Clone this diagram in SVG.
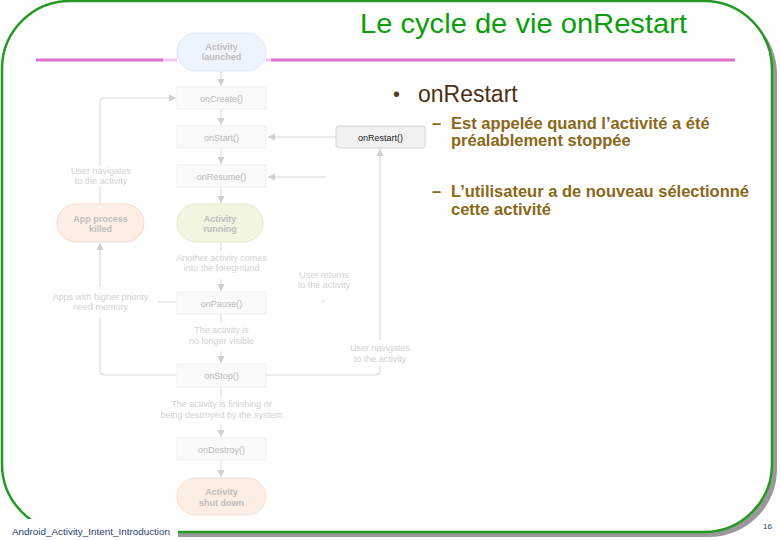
<svg xmlns="http://www.w3.org/2000/svg" width="780" height="540" viewBox="0 0 780 540">
<style>
.node-box{fill:#fafafa;stroke:#efefef;stroke-width:1}
.lbl{font-family:"Liberation Sans",Arial,sans-serif;font-size:9px;fill:#b9b9b9;text-anchor:middle}
.plbl{font-family:"Liberation Sans",Arial,sans-serif;font-size:9px;font-weight:bold;fill:#bdbdbd;text-anchor:middle}
.desc{font-family:"Liberation Sans",Arial,sans-serif;font-size:9px;fill:#d2d2d2;text-anchor:middle}
.conn{fill:none;stroke:#d6d6d6;stroke-width:1}
.arr{marker-end:url(#ah)}
.sub{font-family:"Liberation Sans",Arial,sans-serif;font-size:16.5px;font-weight:bold;fill:#8a6818}
</style>
<defs>
<marker id="ah" markerUnits="userSpaceOnUse" markerWidth="8" markerHeight="8" refX="7" refY="4" orient="auto">
<path d="M0,0.5 L7,4 L0,7.5 z" fill="#cfcfcf"/>
</marker>
</defs>

<!-- frame -->
<rect x="7" y="6" width="770" height="531" rx="68" ry="68" fill="#999999"/>
<rect x="2" y="1" width="770" height="531" rx="68" ry="68" fill="#ffffff" stroke="#249a24" stroke-width="2.5"/>
<rect x="28" y="519" width="150" height="21" fill="#ffffff"/>

<!-- title -->
<text x="360" y="33" font-family="Liberation Sans, Arial, sans-serif" font-size="27" fill="#0a9e0a" textLength="327" lengthAdjust="spacingAndGlyphs">Le cycle de vie onRestart</text>

<!-- magenta rule -->
<g id="rule">
<line x1="36" y1="60" x2="163" y2="60" stroke="#e070d0" stroke-width="3"/>
<line x1="163" y1="60" x2="177" y2="60" stroke="#f6c6ef" stroke-width="3"/>
<line x1="266" y1="60" x2="271" y2="60" stroke="#f6c6ef" stroke-width="3"/>
<line x1="271" y1="60" x2="735" y2="60" stroke="#e070d0" stroke-width="3"/>
</g>

<!-- connectors -->
<g id="connectors">
<line class="conn arr" x1="221" y1="71" x2="221" y2="86"/>
<line class="conn arr" x1="221" y1="109" x2="221" y2="125"/>
<line class="conn arr" x1="221" y1="148" x2="221" y2="164"/>
<line class="conn arr" x1="221" y1="187" x2="221" y2="203"/>
<line class="conn" x1="221" y1="242" x2="221" y2="251"/>
<line class="conn arr" x1="221" y1="279" x2="221" y2="291"/>
<line class="conn" x1="221" y1="314" x2="221" y2="323"/>
<line class="conn arr" x1="221" y1="351" x2="221" y2="363"/>
<line class="conn" x1="221" y1="387" x2="221" y2="397"/>
<line class="conn arr" x1="221" y1="424" x2="221" y2="437"/>
<line class="conn arr" x1="221" y1="460" x2="221" y2="477"/>
<line class="conn arr" x1="336" y1="137" x2="268" y2="137"/>
<line class="conn arr" x1="325" y1="177" x2="268" y2="177"/>
<line class="conn" x1="323" y1="300" x2="323" y2="303"/>
<path class="conn" d="M266,375 H376 Q380,375 380,371 V366"/>
<path class="conn arr" d="M380,340 V149"/>
<path class="conn arr" d="M100,166 V102 Q100,98 104,98 H176"/>
<line class="conn" x1="100" y1="187" x2="100" y2="204"/>
<line class="conn arr" x1="100" y1="287" x2="100" y2="243"/>
<path class="conn" d="M100,317 V371 Q100,375 104,375 H177"/>
<line class="conn" x1="177" y1="302" x2="158" y2="302"/>
</g>

<!-- nodes -->
<g id="n-launched">
<rect x="177" y="33" width="89" height="38" rx="19" fill="#eef4fd" stroke="#dfe8f5"/>
<text class="plbl" x="221.5" y="50">Activity</text>
<text class="plbl" x="221.5" y="60">launched</text>
</g>
<g id="n-oncreate">
<rect class="node-box" x="177" y="87" width="89" height="22"/>
<text class="lbl" x="221.5" y="101.5">onCreate()</text>
</g>
<g id="n-onstart">
<rect class="node-box" x="177" y="126" width="89" height="22"/>
<text class="lbl" x="221.5" y="140.5">onStart()</text>
</g>
<g id="n-onresume">
<rect class="node-box" x="177" y="165" width="89" height="22"/>
<text class="lbl" x="221.5" y="179.5">onResume()</text>
</g>
<g id="n-running">
<rect x="177" y="204" width="86" height="38" rx="19" fill="#f0f6e0" stroke="#e2ebcc"/>
<text class="plbl" x="220" y="221.5">Activity</text>
<text class="plbl" x="220" y="232">running</text>
</g>
<g id="n-killed">
<rect x="57" y="204" width="87" height="38" rx="19" fill="#fdeee6" stroke="#f4dccf"/>
<text class="plbl" x="100.5" y="221.5">App process</text>
<text class="plbl" x="100.5" y="232">killed</text>
</g>
<g id="n-onpause">
<rect class="node-box" x="177" y="292" width="89" height="22"/>
<text class="lbl" x="221.5" y="306.5">onPause()</text>
</g>
<g id="n-onstop">
<rect class="node-box" x="177" y="364" width="89" height="23"/>
<text class="lbl" x="221.5" y="379">onStop()</text>
</g>
<g id="n-ondestroy">
<rect class="node-box" x="177" y="438" width="89" height="22"/>
<text class="lbl" x="221.5" y="452.5">onDestroy()</text>
</g>
<g id="n-shutdown">
<rect x="177" y="478" width="89" height="37" rx="18.5" fill="#fdeee4" stroke="#f5dfd2"/>
<text class="plbl" x="221.5" y="495">Activity</text>
<text class="plbl" x="221.5" y="505.5">shut down</text>
</g>
<g id="n-onrestart">
<rect x="336" y="126" width="89" height="22" rx="2.5" fill="#f1f1f1" stroke="#d4d4d4"/>
<text x="380.5" y="140.5" font-family="Liberation Sans, Arial, sans-serif" font-size="9" fill="#222222" text-anchor="middle">onRestart()</text>
</g>

<!-- edge descriptions -->
<g id="descriptions">
<text class="desc" x="101" y="174">User navigates</text>
<text class="desc" x="101" y="184">to the activity</text>
<text class="desc" x="100.5" y="299.5">Apps with higher priority</text>
<text class="desc" x="100.5" y="310">need memory</text>
<text class="desc" x="221.5" y="261">Another activity comes</text>
<text class="desc" x="221.5" y="271">into the foreground</text>
<text class="desc" x="324" y="278">User returns</text>
<text class="desc" x="324" y="288">to the activity</text>
<text class="desc" x="221.5" y="333">The activity is</text>
<text class="desc" x="221.5" y="344">no longer visible</text>
<text class="desc" x="380" y="351">User navigates</text>
<text class="desc" x="380" y="362">to the activity</text>
<text class="desc" x="221.5" y="407">The activity is finishing or</text>
<text class="desc" x="221.5" y="418">being destroyed by the system</text>
</g>

<!-- bullets -->
<g id="bullets">
<text x="393" y="101" font-family="Liberation Sans, Arial, sans-serif" font-size="20" fill="#5a3a12">•</text>
<text x="418" y="101.5" font-family="Liberation Sans, Arial, sans-serif" font-size="23" fill="#4d3010">onRestart</text>
<text class="sub" x="432" y="128.5">–</text>
<text class="sub" x="451" y="128.5">Est appelée quand l’activité a été</text>
<text class="sub" x="451" y="146">préalablement stoppée</text>
<text class="sub" x="432" y="197">–</text>
<text class="sub" x="451" y="197">L’utilisateur a de nouveau sélectionné</text>
<text class="sub" x="451" y="214.5">cette activité</text>
</g>

<!-- footer -->
<text x="12" y="535" font-family="Liberation Sans, Arial, sans-serif" font-size="9" fill="#1f3e70" textLength="158" lengthAdjust="spacingAndGlyphs">Android_Activity_Intent_Introduction</text>
<text x="763" y="529" font-family="Liberation Sans, Arial, sans-serif" font-size="8" fill="#1f3e70">16</text>
</svg>
